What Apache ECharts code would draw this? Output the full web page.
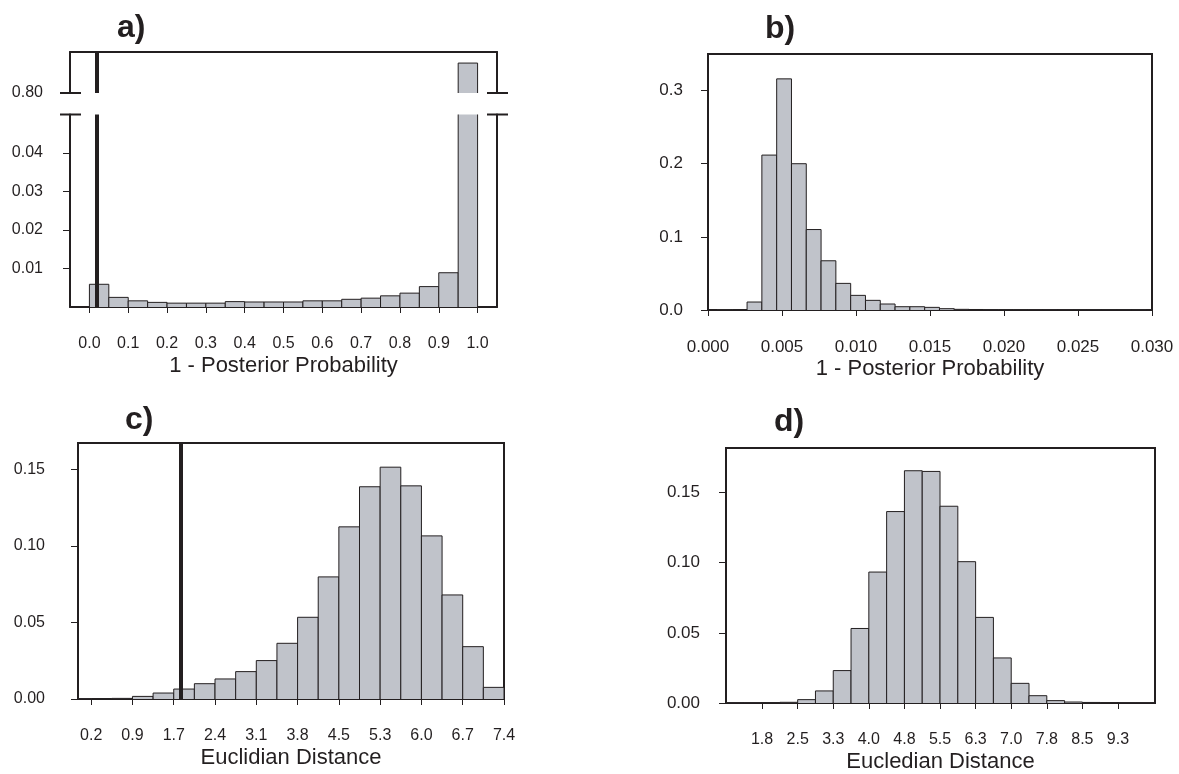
<!DOCTYPE html>
<html>
<head>
<meta charset="utf-8">
<title>Histograms</title>
<script src="https://cdn.jsdelivr.net/npm/echarts@6/dist/echarts.min.js"></script>
<style>
  html, body { margin: 0; padding: 0; background: #fff; }
  #chart { width: 1179px; height: 774px; }
</style>
</head>
<body>
<div id="chart"></div>
<script>
// a) 1 - posterior probability (bins of 0.05), last bin sits above the axis break
const aFirstEdge = 0, aBinWidth = 0.05;
const aValues = [0.0059, 0.0025, 0.0016, 0.0012, 0.0010, 0.0010, 0.0010, 0.0014, 0.0013, 0.0013,
                 0.0013, 0.0016, 0.0016, 0.0020, 0.0023, 0.0029, 0.0036, 0.0053, 0.0089, 0.873];
const aObserved = 0.024;
const aTicks = [0, 0.1, 0.2, 0.3, 0.4, 0.5, 0.6, 0.7, 0.8, 0.9, 1.0];
const aTickLabels = ['0.0', '0.1', '0.2', '0.3', '0.4', '0.5', '0.6', '0.7', '0.8', '0.9', '1.0'];
const aYTicks = [0.01, 0.02, 0.03, 0.04];

// b) 1 - posterior probability, null distribution
const bFirstEdge = 0.00064, bBinWidth = 0.001;
const bValues = [0.0004, 0.0006, 0.0109, 0.2118, 0.316, 0.200, 0.110, 0.0673, 0.0364, 0.0200,
                 0.0132, 0.0082, 0.0045, 0.0045, 0.0036, 0.0018, 0.0009, 0.0007, 0.0005, 0.0004,
                 0.0004, 0.0003, 0.0003, 0.0003, 0.0002, 0.0002, 0.0002, 0.0002, 0.0002, 0.0001];
const bTicks = [0, 0.005, 0.010, 0.015, 0.020, 0.025, 0.030];
const bTickLabels = ['0.000', '0.005', '0.010', '0.015', '0.020', '0.025', '0.030'];
const bYTicks = [0, 0.1, 0.2, 0.3];

// c) Euclidian distance
const cFirstEdge = -0.14, cBinWidth = 0.36;
const cValues = [0.0002, 0.0003, 0.0004, 0.0017, 0.0039, 0.0065, 0.0100, 0.0131, 0.0179, 0.0251,
                 0.0364, 0.0534, 0.0798, 0.1125, 0.1387, 0.1515, 0.1393, 0.1066, 0.0680, 0.0342, 0.0076];
const cObserved = 1.78;
const cTicks = [0.22, 0.94, 1.66, 2.38, 3.10, 3.82, 4.54, 5.26, 5.98, 6.70, 7.42];
const cTickLabels = ['0.2', '0.9', '1.7', '2.4', '3.1', '3.8', '4.5', '5.3', '6.0', '6.7', '7.4'];
const cYTicks = [0, 0.05, 0.10, 0.15];

// d) Eucledian distance
const dFirstEdge = 1.02, dBinWidth = 0.375;
const dValues = [0.0002, 0.0002, 0.0003, 0.0005, 0.0024, 0.0086, 0.0231, 0.0531, 0.0933, 0.1364,
                 0.1655, 0.1650, 0.1402, 0.1007, 0.0610, 0.0321, 0.0140, 0.0052, 0.0017, 0.0007,
                 0.0004, 0.0003, 0.0002, 0.0002];
const dTicks = [1.77, 2.52, 3.27, 4.02, 4.77, 5.52, 6.27, 7.02, 7.77, 8.52, 9.27];
const dTickLabels = ['1.8', '2.5', '3.3', '4.0', '4.8', '5.5', '6.3', '7.0', '7.8', '8.5', '9.3'];
const dYTicks = [0, 0.05, 0.10, 0.15];

const ink = '#231f20';
const barFill = '#c0c3ca';
const fontFamily = '"Liberation Sans", Arial, Helvetica, sans-serif';

// histogram bins -> [start, end, value]
function bins(first, width, values) {
  return values.map((v, i) => [first + i * width, first + (i + 1) * width, v]);
}

function renderBin(params, api) {
  const p0 = api.coord([api.value(0), api.value(2)]);
  const p1 = api.coord([api.value(1), 0]);
  const cs = params.coordSys;
  const full = { x: p0[0], y: p0[1], width: p1[0] - p0[0], height: p1[1] - p0[1] };
  const shape = echarts.graphic.clipRectByRect(full, { x: cs.x, y: cs.y, width: cs.width, height: cs.height });
  if (!shape || shape.height <= 0 || shape.width <= 0) return;
  const x0 = shape.x, x1 = shape.x + shape.width, y0 = shape.y, y1 = shape.y + shape.height;
  const children = [{ type: 'rect', shape: shape, style: { fill: barFill } }];
  if (shape.y <= full.y + 0.5) {
    // whole bar: left, top and right edges
    children.push({ type: 'polyline', shape: { points: [[x0, y1], [x0, y0], [x1, y0], [x1, y1]] }, style: { fill: null, stroke: ink, lineWidth: 1 } });
  } else {
    // bar cut by the axis break: sides only
    children.push({ type: 'line', shape: { x1: x0, y1: y0, x2: x0, y2: y1 }, style: { stroke: ink, lineWidth: 1 } });
    children.push({ type: 'line', shape: { x1: x1, y1: y0, x2: x1, y2: y1 }, style: { stroke: ink, lineWidth: 1 } });
  }
  return { type: 'group', children: children };
}

function xAxisFor(gridIndex, min, max, ticks, labels, name, fontSize) {
  return {
    type: 'value', gridIndex: gridIndex, min: min, max: max,
    name: name, nameLocation: 'middle', nameGap: 48,
    nameTextStyle: { color: ink, fontSize: 22, fontFamily: fontFamily },
    axisLine: { show: true, onZero: false, lineStyle: { color: ink, width: 2 } },
    axisTick: { show: true, length: 6, customValues: ticks, lineStyle: { color: ink, width: 1 } },
    axisLabel: {
      show: true, margin: 29, color: ink, fontSize: fontSize, fontFamily: fontFamily,
      customValues: ticks,
      formatter: (v) => labels[ticks.findIndex(t => Math.abs(t - v) < 1e-9)] || ''
    },
    splitLine: { show: false }
  };
}

function yAxisFor(gridIndex, min, max, ticks, digits, margin, fontSize) {
  return {
    type: 'value', gridIndex: gridIndex, min: min, max: max,
    axisLine: { show: true, onZero: false, lineStyle: { color: ink, width: 2 } },
    axisTick: { show: true, length: 7, customValues: ticks, lineStyle: { color: ink, width: 1 } },
    axisLabel: {
      show: true, margin: margin, color: ink, fontSize: fontSize, fontFamily: fontFamily,
      customValues: ticks, formatter: (v) => v.toFixed(digits)
    },
    splitLine: { show: false }
  };
}

function sideAxis(gridIndex, position, min, max) {
  return {
    type: 'value', gridIndex: gridIndex, position: position, min: min, max: max,
    axisLine: { show: true, onZero: false, lineStyle: { color: ink, width: 2 } },
    axisTick: { show: false }, axisLabel: { show: false }, splitLine: { show: false }
  };
}

function observedLine(xAxisIndex, yAxisIndex, value) {
  return {
    type: 'line', xAxisIndex: xAxisIndex, yAxisIndex: yAxisIndex, data: [], z: 5,
    markLine: {
      silent: true, symbol: 'none', animation: false, label: { show: false },
      lineStyle: { color: ink, width: 4, type: 'solid' },
      data: [{ xAxis: value }]
    }
  };
}

function panelLetter(text, x, y) {
  return {
    type: 'text', x: x, y: y, silent: true,
    style: { text: text, fill: ink, fontSize: 32, fontWeight: 'bold', fontFamily: fontFamily, verticalAlign: 'middle' }
  };
}

const chart = echarts.init(document.getElementById('chart'));

const option = {
  animation: false,
  backgroundColor: '#fff',
  grid: [
    { left: 70, top: 52, width: 427, height: 41, outerBoundsMode: 'none', containLabel: false },
    { left: 70, top: 114.5, width: 427, height: 192.5, outerBoundsMode: 'none', containLabel: false },
    { left: 708, top: 54, width: 444, height: 256, show: true, borderColor: ink, borderWidth: 2, outerBoundsMode: 'none', containLabel: false },
    { left: 78, top: 443, width: 426, height: 256, show: true, borderColor: ink, borderWidth: 2, outerBoundsMode: 'none', containLabel: false },
    { left: 726, top: 448, width: 429, height: 255, show: true, borderColor: ink, borderWidth: 2, outerBoundsMode: 'none', containLabel: false }
  ],
  xAxis: [
    {
      type: 'value', gridIndex: 0, min: -0.05, max: 1.05, position: 'top',
      axisLine: { show: true, onZero: false, lineStyle: { color: ink, width: 2 } },
      axisTick: { show: false }, axisLabel: { show: false }, splitLine: { show: false }
    },
    xAxisFor(1, -0.05, 1.05, aTicks, aTickLabels, '1 - Posterior Probability', 16),
    xAxisFor(2, 0, 0.03, bTicks, bTickLabels, '1 - Posterior Probability', 17),
    xAxisFor(3, -0.01, 7.42, cTicks, cTickLabels, 'Euclidian Distance', 16),
    xAxisFor(4, 1.01, 10.05, dTicks, dTickLabels, 'Eucledian Distance', 16)
  ],
  yAxis: [
    {
      type: 'value', gridIndex: 0, min: 0.8, max: 0.9,
      axisLine: { show: true, onZero: false, lineStyle: { color: ink, width: 2 } },
      axisTick: { show: false },
      axisLabel: { show: true, margin: 27, color: ink, fontSize: 16, fontFamily: fontFamily, customValues: [0.8], formatter: (v) => v.toFixed(2) },
      splitLine: { show: false }
    },
    sideAxis(0, 'right', 0.8, 0.9),
    yAxisFor(1, 0, 0.05, aYTicks, 2, 27, 16),
    sideAxis(1, 'right', 0, 0.05),
    yAxisFor(2, 0, 0.35, bYTicks, 1, 25, 17),
    yAxisFor(3, 0, 0.1673, cYTicks, 2, 33, 16),
    yAxisFor(4, 0, 0.1817, dYTicks, 2, 26, 17)
  ],
  series: [
    { type: 'custom', xAxisIndex: 0, yAxisIndex: 0, renderItem: renderBin, encode: { x: [0, 1], y: 2 }, data: bins(aFirstEdge, aBinWidth, aValues) },
    { type: 'custom', xAxisIndex: 1, yAxisIndex: 2, renderItem: renderBin, encode: { x: [0, 1], y: 2 }, data: bins(aFirstEdge, aBinWidth, aValues) },
    observedLine(0, 0, aObserved),
    observedLine(1, 2, aObserved),
    { type: 'custom', xAxisIndex: 2, yAxisIndex: 4, renderItem: renderBin, encode: { x: [0, 1], y: 2 }, data: bins(bFirstEdge, bBinWidth, bValues) },
    { type: 'custom', xAxisIndex: 3, yAxisIndex: 5, renderItem: renderBin, encode: { x: [0, 1], y: 2 }, data: bins(cFirstEdge, cBinWidth, cValues) },
    observedLine(3, 5, cObserved),
    { type: 'custom', xAxisIndex: 4, yAxisIndex: 6, renderItem: renderBin, encode: { x: [0, 1], y: 2 }, data: bins(dFirstEdge, dBinWidth, dValues) }
  ],
  graphic: [
    panelLetter('a)', 117, 28),
    panelLetter('b)', 765, 29),
    panelLetter('c)', 125, 420),
    panelLetter('d)', 774, 422)
  ]
};

chart.setOption(option);

// break marks on the a) panel axis, placed from the axes themselves
const upL = chart.convertToPixel({ gridIndex: 0 }, [-0.05, 0.8]);
const upR = chart.convertToPixel({ gridIndex: 0 }, [1.05, 0.8]);
const loL = chart.convertToPixel({ gridIndex: 1 }, [-0.05, 0.05]);
const loR = chart.convertToPixel({ gridIndex: 1 }, [1.05, 0.05]);
function cap(p) {
  return { type: 'line', silent: true, shape: { x1: p[0] - 10, y1: p[1], x2: p[0] + 11, y2: p[1] }, style: { stroke: ink, lineWidth: 2 } };
}
chart.setOption({ graphic: option.graphic.concat([cap(upL), cap(upR), cap(loL), cap(loR)]) });
</script>
</body>
</html>
